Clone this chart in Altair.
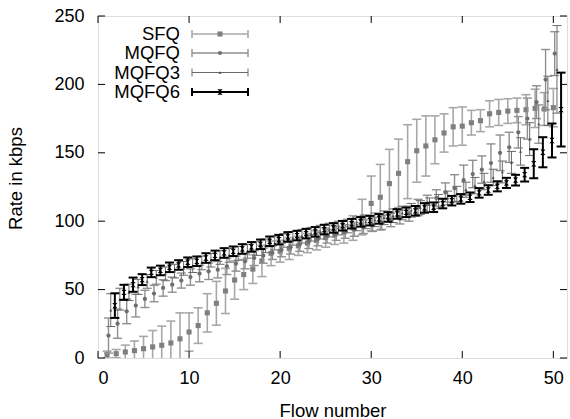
import altair as alt
import pandas as pd

flows = list(range(1, 51))
series_names = ["SFQ", "MQFQ", "MQFQ3", "MQFQ6"]

sfq = [2.5, 3.2, 4.4, 5.4, 6.8, 8.1, 9.3, 11, 14, 19,
       23.7, 33, 40, 49, 57, 61, 65, 71, 76.5, 78,
       80, 82, 84, 86, 88, 90, 92, 95, 103, 113,
       117.5, 127.5, 135, 143.5, 151.5, 155, 159.5, 164.5, 169, 169.5,
       172, 173.5, 178.5, 179.5, 180.5, 181, 181.5, 182.5, 182, 183]
sfq_err = [2.5, 3, 5, 7, 9, 12, 14, 16, 19, 14,
           13, 14, 16, 16.5, 14, 11, 10.5, 11.5, 9, 8,
           8, 7, 7, 7, 7, 7, 8, 9, 13, 20,
           24, 25, 25, 27, 23, 22, 17.5, 14, 14, 14,
           9, 8, 9.5, 9.5, 9, 9, 11, 14, 12, 14]

mqfq = [16.4, 25.1, 34.1, 38.3, 43.2, 47.1, 51.2, 53.6, 56.6, 59.2,
        61.7, 63.4, 64.6, 67, 69, 70.7, 73.1, 74.8, 77, 79,
        81, 83, 85, 87, 89, 91, 92.5, 94, 96, 97.5,
        99, 101, 103, 105.5, 110, 113, 117, 121, 124, 130,
        134.5, 137.7, 142.5, 150, 154, 165, 175, 187, 203.5, 222.5]
mqfq_err = [12.8, 10.7, 9, 8.3, 6.3, 6, 6, 5.5, 5.5, 6,
            6, 6, 6, 6, 5.5, 5.5, 5.5, 5.5, 5, 5,
            5, 5, 5, 5, 5, 5, 5, 5, 5, 5,
            5, 5, 5, 5.5, 6, 6, 6, 7, 10, 11,
            10, 10, 14, 13, 11, 11.5, 15, 12, 22, 16]

mqfq3 = [35, 43, 48, 52, 56, 59, 61.5, 63.5, 65.5, 67.5,
         69.5, 71.5, 73.5, 75, 76.5, 78, 80, 82, 84, 86,
         87.5, 89, 90.5, 92, 93.5, 95, 96.5, 98, 99.5, 101,
         102.5, 104, 106, 108, 110, 112, 114.5, 117, 120, 123,
         126, 129, 132, 136, 143, 151, 160, 171, 188, 211]
mqfq3_err = [12, 8, 6, 5.5, 5, 5, 5, 5, 5, 5,
             5, 5, 5, 5, 5, 5, 5, 5, 5, 5,
             5, 5, 5, 5, 5, 5, 5, 5, 5, 5,
             5, 5, 5, 5, 5, 5, 5, 5, 5.5, 5.5,
             6, 6, 6, 8, 8, 10, 12, 14, 18, 32]

mqfq6 = [38.3, 48, 53.6, 57.3, 62.6, 64, 66.3, 68, 70, 70.7,
         73.1, 75, 76.8, 78, 79.7, 81.2, 83.1, 85.3, 86.5, 88.5,
         89.5, 90.9, 92.2, 93.9, 95.1, 96.7, 98.2, 99.5, 100.4, 101.7,
         103.1, 105.3, 106.5, 107.6, 109.7, 110.2, 112.9, 115, 116.3, 117.5,
         120.7, 122.8, 125.5, 128, 130, 134, 142, 150.4, 159, 181.6]
mqfq6_err = [9, 5.5, 5.2, 4, 3.5, 3.5, 3.5, 3.5, 3.5, 3.5,
             3.5, 3.5, 3.5, 3.5, 3.5, 3.5, 3.5, 3.5, 3.5, 3.5,
             3.5, 3.5, 3.5, 3.5, 3.5, 3.5, 3.5, 3.5, 3.5, 3.5,
             3.5, 3.5, 3.5, 3.5, 3.5, 3.5, 3.5, 3.5, 3.5, 3.5,
             3.5, 3.5, 3.7, 3.7, 3.9, 5, 10.6, 11, 12.4, 27]

x_ticks = [0, 10, 20, 30, 40, 50]
y_ticks = [0, 50, 100, 150, 200, 250]

FONT = "Liberation Sans"
W, H = 469, 342

values = {"SFQ": (sfq, sfq_err), "MQFQ": (mqfq, mqfq_err),
          "MQFQ3": (mqfq3, mqfq3_err), "MQFQ6": (mqfq6, mqfq6_err)}
x_offsets = {"SFQ": 0.0, "MQFQ": 0.15, "MQFQ3": 0.4, "MQFQ6": 0.85}
styles = {
    "SFQ": dict(bar="#a8a8a8", bw=1.6, shape="square", pc="#7f7f7f", ps=26),
    "MQFQ": dict(bar="#8f8f8f", bw=1.4, shape="circle", pc="#6e6e6e", ps=18),
    "MQFQ3": dict(bar="#6a6a6a", bw=1.0, shape="triangle-up", pc="#4a4a4a", ps=9),
    "MQFQ6": dict(bar="#000000", bw=2.0, shape="M-1,-1L1,-1L-1,1L1,1Z", pc="#000000", ps=28),
}

xscale = alt.Scale(domain=[0, 51.5], nice=False, zero=False)
yscale = alt.Scale(domain=[0, 250], nice=False, zero=False)
xaxis = alt.Axis(values=x_ticks, title="Flow number", domain=False, ticks=False,
                 grid=False, labelFontSize=18, labelPadding=11, labelColor="black",
                 titleFontSize=18.5, titleFontWeight="normal", titleColor="black",
                 titleX=W / 2, titleY=52, titleBaseline="middle")
yaxis = alt.Axis(values=y_ticks, title="Rate in kbps", domain=False, ticks=False,
                 grid=False, labelFontSize=18, labelPadding=14, labelColor="black",
                 titleFontSize=18.5, titleFontWeight="normal", titleColor="black",
                 titleX=-83, titleY=162, titleAngle=270, titleBaseline="middle")


def X(field):
    return alt.X(field, type="quantitative", scale=xscale, axis=xaxis)


def Y(field):
    return alt.Y(field, type="quantitative", scale=yscale, axis=yaxis)


layers = []
for name in series_names:
    v, e = values[name]
    df = pd.DataFrame({
        "x": [f + x_offsets[name] for f in flows],
        "y": v,
        "lo": [a - b for a, b in zip(v, e)],
        "hi": [a + b for a, b in zip(v, e)],
    })
    s = styles[name]
    base = alt.Chart(df)
    layers.append(base.mark_rule(color=s["bar"], strokeWidth=s["bw"], clip=True)
                  .encode(x=X("x"), y=Y("lo"), y2="hi"))
    layers.append(base.mark_tick(orient="horizontal", color=s["bar"], thickness=s["bw"],
                                 size=9, clip=True, opacity=1)
                  .encode(x=X("x"), y=Y("lo")))
    layers.append(base.mark_tick(orient="horizontal", color=s["bar"], thickness=s["bw"],
                                 size=9, clip=True, opacity=1)
                  .encode(x=X("x"), y=Y("hi")))
    layers.append(base.mark_point(shape=s["shape"], filled=True, size=s["ps"],
                                  color=s["pc"], opacity=1, clip=True)
                  .encode(x=X("x"), y=Y("y")))

# inward ticks on all four sides (gnuplot style)
ydf = pd.DataFrame({"t": y_ticks})
xdf = pd.DataFrame({"t": x_ticks})
TL = 7
layers.append(alt.Chart(ydf).mark_rule(color="black", strokeWidth=1)
              .encode(y=Y("t"), x=alt.value(0), x2=alt.value(TL)))
layers.append(alt.Chart(ydf).mark_rule(color="black", strokeWidth=1)
              .encode(y=Y("t"), x=alt.value(W), x2=alt.value(W - TL)))
layers.append(alt.Chart(xdf).mark_rule(color="black", strokeWidth=1)
              .encode(x=X("t"), y=alt.value(H), y2=alt.value(H - TL)))
layers.append(alt.Chart(xdf).mark_rule(color="black", strokeWidth=1)
              .encode(x=X("t"), y=alt.value(0), y2=alt.value(TL)))

# legend (top-left, inside the frame)
row_y = [18, 37, 56.5, 76]
for i, name in enumerate(series_names):
    s = styles[name]
    ly = row_y[i]
    ldf = pd.DataFrame({"label": [name]})
    lc = alt.Chart(ldf)
    layers.append(lc.mark_text(align="right", baseline="middle", fontSize=18.5,
                               font=FONT, color="black")
                  .encode(text="label:N", x=alt.value(82), y=alt.value(ly)))
    layers.append(lc.mark_rule(color=s["bar"], strokeWidth=s["bw"])
                  .encode(x=alt.value(94), x2=alt.value(150), y=alt.value(ly)))
    for cx in (94, 150):
        layers.append(lc.mark_rule(color=s["bar"], strokeWidth=s["bw"])
                      .encode(x=alt.value(cx), y=alt.value(ly - 4), y2=alt.value(ly + 4)))
    layers.append(lc.mark_point(shape=s["shape"], filled=True, size=s["ps"],
                                color=s["pc"], opacity=1)
                  .encode(x=alt.value(122), y=alt.value(ly)))

chart = alt.layer(*layers).properties(
    width=W, height=H,
    autosize=alt.AutoSizeParams(type="none"),
    padding={"left": 98, "top": 16, "right": 3, "bottom": 61},
    background="white",
).configure_view(stroke="black", strokeWidth=1.5).configure(font=FONT)

chart.save("out.html", embed_options={"renderer": "svg", "actions": False})
